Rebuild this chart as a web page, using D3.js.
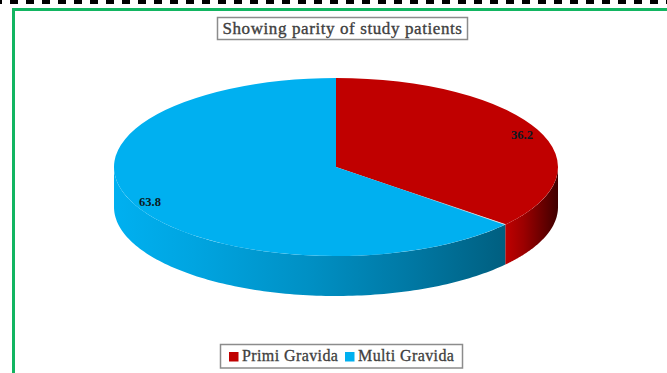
<!DOCTYPE html>
<html>
<head>
<meta charset="utf-8">
<style>
  html, body { margin: 0; padding: 0; background: #fff; }
  svg { display: block; }
  text { font-family: "Liberation Serif", serif; }
</style>
<script src="https://cdn.jsdelivr.net/npm/d3@7/dist/d3.min.js"></script>
</head>
<body>
<svg id="chart" width="667" height="373"></svg>
<script>
// Parity of study patients, in percent
const categories = ["Primi Gravida", "Multi Gravida"];
const values = [36.2, 63.8];
const topColors = ["#c00000", "#00b0f0"];
const chartTitle = "Showing parity of study patients";

const svg = d3.select("#chart");
const width = 667, height = 373;

// Page decoration: dashed rule and the green frame around the chart
const dashes = d3.range(-6, width, 16);
svg.append("g").selectAll("rect").data(dashes).join("rect")
  .attr("x", d => d).attr("y", 0).attr("width", 8).attr("height", 4)
  .attr("fill", "#000");
svg.append("path")
  .attr("d", `M13.5,${height} V9.5 H${width}`)
  .attr("fill", "none").attr("stroke", "#12b561").attr("stroke-width", 3);

// Pie geometry: a flattened disc with a visible rim
const cx = 336, cy = 167, rx = 222, ry = 89, depth = 40;
const pie = d3.pie().value(d => d.value).sort(null);
const slices = pie(categories.map((name, i) => ({ name, value: values[i], color: topColors[i] })));

const px = a => cx + rx * Math.sin(a);
const py = (a, dy = 0) => cy - ry * Math.cos(a) + dy;

// Rim gradients, running left to right across each slice's exposed wall
const defs = svg.append("defs");
function rimGradient(id, x1, x2, stops) {
  const g = defs.append("linearGradient").attr("id", id)
    .attr("gradientUnits", "userSpaceOnUse")
    .attr("x1", x1).attr("x2", x2).attr("y1", 0).attr("y2", 0);
  stops.forEach(([o, c]) => g.append("stop").attr("offset", o).attr("stop-color", c));
}
rimGradient("rim0", 505, 558, [[0, "#c00000"], [0.35, "#9c0000"], [1, "#3f0000"]]);
rimGradient("rim1", 114, 505, [[0, "#00b0f0"], [0.2, "#00a5e1"], [0.5, "#0090c4"], [0.75, "#0079a5"], [1, "#005f80"]]);

// Seam fades out towards the centre of the disc
const seamGrad = defs.append("linearGradient").attr("id", "seam")
  .attr("gradientUnits", "userSpaceOnUse")
  .attr("x1", 400).attr("x2", 505).attr("y1", 0).attr("y2", 0);
seamGrad.append("stop").attr("offset", 0).attr("stop-color", "#e0e0e0").attr("stop-opacity", 0);
seamGrad.append("stop").attr("offset", 1).attr("stop-color", "#e0e0e0").attr("stop-opacity", 1);

// Only the part of the wall below the horizontal axis is visible
function rimPath(a0, a1) {
  const from = Math.max(a0, Math.PI / 2), to = Math.min(a1, 3 * Math.PI / 2);
  const p = d3.path();
  const pts = d3.range(0, 121).map(i => from + (to - from) * i / 120);
  pts.forEach((a, i) => i ? p.lineTo(px(a), py(a)) : p.moveTo(px(a), py(a)));
  pts.slice().reverse().forEach(a => p.lineTo(px(a), py(a, depth)));
  p.closePath();
  return p.toString();
}
svg.append("g").selectAll("path").data(slices).join("path")
  .attr("d", d => rimPath(d.startAngle, d.endAngle))
  .attr("fill", (d, i) => `url(#rim${i})`);

// Top face: circular arcs squashed into an ellipse
const arc = d3.arc().innerRadius(0).outerRadius(rx);
svg.append("g")
  .attr("transform", `translate(${cx},${cy}) scale(1,${ry / rx})`)
  .selectAll("path").data(slices).join("path")
  .attr("d", arc)
  .attr("fill", d => d.data.color);

// Thin light seam where the two slices meet at the lower right
const seamAngle = slices[0].endAngle;
svg.append("line")
  .attr("x1", cx).attr("y1", cy)
  .attr("x2", px(seamAngle)).attr("y2", py(seamAngle))
  .attr("stroke", "url(#seam)").attr("stroke-width", 1);

// Value labels sit near the outer edge of each slice
const labelPos = [[522, 135], [150, 202]];
svg.append("g").selectAll("text").data(slices).join("text")
  .attr("x", (d, i) => labelPos[i][0]).attr("y", (d, i) => labelPos[i][1])
  .attr("dy", "0.35em").attr("text-anchor", "middle")
  .attr("font-size", 12.5).attr("font-weight", "bold").attr("fill", "#0b1a22")
  .text(d => d.data.value);

// Title box
svg.append("rect")
  .attr("x", 217.5).attr("y", 17.5).attr("width", 250).attr("height", 22)
  .attr("fill", "#fff").attr("stroke", "#8c8c8c").attr("stroke-width", 1.5);
svg.append("text")
  .attr("x", 342.5).attr("y", 33.5).attr("text-anchor", "middle")
  .attr("font-size", 17).attr("letter-spacing", 0.6).attr("fill", "#404040")
  .attr("stroke", "#404040").attr("stroke-width", 0.35)
  .text(chartTitle);

// Legend box
svg.append("rect")
  .attr("x", 220.5).attr("y", 344.5).attr("width", 242).attr("height", 23.5)
  .attr("fill", "#fff").attr("stroke", "#8c8c8c").attr("stroke-width", 1.5);
const legendX = [229, 345];
const legend = svg.append("g").selectAll("g").data(categories).join("g")
  .attr("transform", (d, i) => `translate(${legendX[i]},0)`);
legend.append("rect")
  .attr("y", 352).attr("width", 9.5).attr("height", 9.5)
  .attr("fill", (d, i) => topColors[i]);
legend.append("text")
  .attr("x", 13).attr("y", 361)
  .attr("font-size", 16).attr("letter-spacing", 0.4).attr("fill", "#404040")
  .attr("stroke", "#404040").attr("stroke-width", 0.3)
  .text(d => d);
</script>
</body>
</html>
